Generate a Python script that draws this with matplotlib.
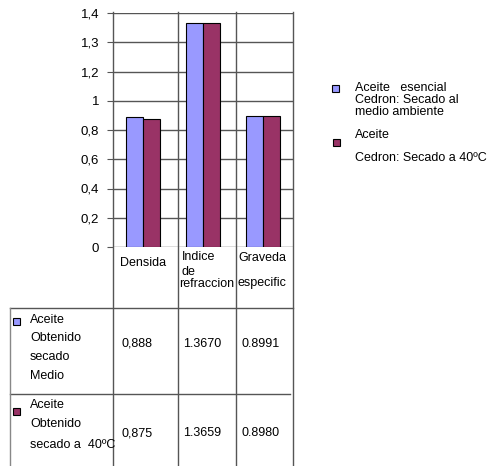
import numpy as np
import matplotlib.pyplot as plt
from matplotlib.lines import Line2D
from matplotlib.patches import Rectangle

plt.rcParams['font.family'] = ['Liberation Sans', 'DejaVu Sans']

# datos de la tabla
propiedades = ["Densida", "Indice\nde\nrefraccion", "Graveda\nespecific"]
medio_txt = ["0,888", "1.3670", "0.8991"]
cuarenta_txt = ["0,875", "1.3659", "0.8980"]
medio = np.array([float(s.replace(",", ".")) for s in medio_txt])
cuarenta = np.array([float(s.replace(",", ".")) for s in cuarenta_txt])

yticks = [0, 0.2, 0.4, 0.6, 0.8, 1.0, 1.2, 1.3, 1.4]
ytick_txt = ["0", "0,2", "0,4", "0,6", "0,8", "1", "1,2", "1,3", "1,4"]

azul = "#9999FF"
vino = "#993366"
gris = "#555555"

W, H = 503, 466
fig = plt.figure(figsize=(W / 100, H / 100), dpi=100)

def fx(px):
    return px / W

def fy(py):
    return 1 - py / H

def fline(x0, y0, x1, y1, c=gris, lw=1.0):
    fig.add_artist(Line2D([fx(x0), fx(x1)], [fy(y0), fy(y1)], color=c, lw=lw,
                          transform=fig.transFigure))

ax = fig.add_axes([fx(113), fy(247), 180 / W, 234 / H])

# escala por tramos: las marcas del eje van igual de separadas
pos = np.arange(len(yticks))
ax.set_yscale("function", functions=(lambda v: np.interp(v, yticks, pos),
                                     lambda u: np.interp(u, pos, yticks)))
ax.set_ylim(0, 1.4)
ax.set_xlim(-0.5, 2.5)

x = np.arange(len(propiedades))
w = 0.28
ax.bar(x - w / 2, medio, w, color=azul, edgecolor="black", lw=0.8, zorder=3)
ax.bar(x + w / 2, cuarenta, w, color=vino, edgecolor="black", lw=0.8, zorder=3)

ax.set_yticks(yticks)
ax.set_yticklabels(ytick_txt, fontsize=9.5)
ax.yaxis.set_minor_locator(plt.NullLocator())
ax.tick_params(axis="y", length=4, color=gris, pad=6)
ax.set_xticks([])
ax.grid(axis="y", color=gris, lw=1.0, zorder=0)
for s in ax.spines.values():
    s.set_visible(False)

# lineas de la tabla
for xv in [113, 178, 236, 293]:
    fline(xv, 12, xv, 466)
fline(10, 308, 293, 308)
fline(10, 394, 290, 394)
fline(10, 308, 10, 466, c="#888888")

# encabezados de columna
col_x = [120, 182, 238]
for cx, nombre in zip(col_x, propiedades):
    lineas = nombre.split("\n")
    if len(lineas) == 1:
        fig.text(fx(cx), fy(263), lineas[0], fontsize=9, va="center")
    elif len(lineas) == 2:
        fig.text(fx(cx), fy(258), lineas[0], fontsize=9, va="center")
        fig.text(fx(cx), fy(283), lineas[1], fontsize=9, va="center")
    else:
        fig.text(fx(cx), fy(257), lineas[0], fontsize=9, va="center")
        fig.text(fx(cx), fy(272), lineas[1], fontsize=9, va="center")
        fig.text(fx(cx - 3), fy(284), lineas[2], fontsize=9, va="center")

# filas de la tabla
filas = [
    (azul, 321, ["Aceite", "Obtenido", "secado", "Medio"], [320, 338, 357, 376], medio_txt, 344),
    (vino, 411, ["Aceite", "Obtenido", "secado a  40ºC"], [405, 424, 445], cuarenta_txt, 433),
]
for color, my, textos, ys, valores, vy in filas:
    fig.add_artist(Rectangle((fx(13), fy(my + 3.5)), 7 / W, 7 / H, facecolor=color,
                             edgecolor="black", lw=0.8, transform=fig.transFigure))
    for t, ty in zip(textos, ys):
        fig.text(fx(30), fy(ty), t, fontsize=9, va="center")
    for cx, v in zip([121, 183, 241], valores):
        fig.text(fx(cx), fy(vy), v, fontsize=9, va="center")

# leyenda
fig.add_artist(Rectangle((fx(332), fy(91.5)), 7 / W, 7 / H, facecolor=azul,
                         edgecolor="black", lw=0.8, transform=fig.transFigure))
for t, ty in zip(["Aceite   esencial", "Cedron: Secado al", "medio ambiente"], [88, 100, 112]):
    fig.text(fx(355), fy(ty), t, fontsize=9, va="center")
fig.add_artist(Rectangle((fx(333), fy(146)), 7 / W, 7 / H, facecolor=vino,
                         edgecolor="black", lw=0.8, transform=fig.transFigure))
fig.text(fx(355), fy(135), "Aceite", fontsize=9, va="center")
fig.text(fx(355), fy(158), "Cedron: Secado a 40ºC", fontsize=9, va="center")

fig.savefig("out.png", dpi=100)
